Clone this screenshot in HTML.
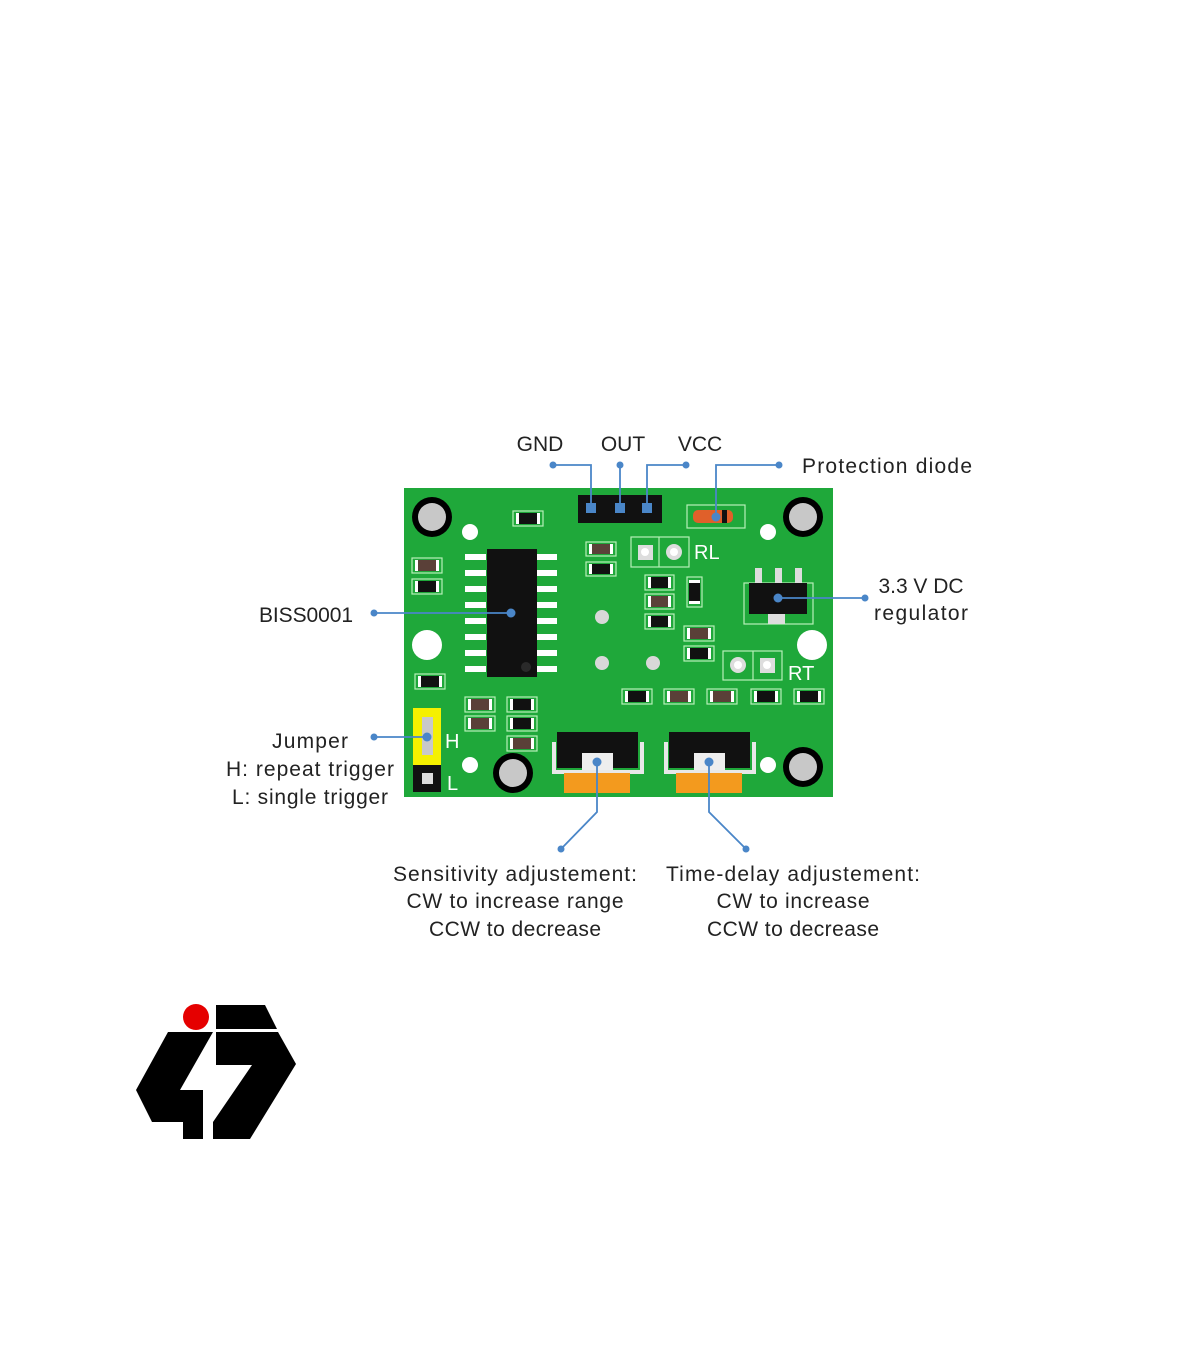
<!DOCTYPE html>
<html><head><meta charset="utf-8"><style>
html,body{margin:0;padding:0;background:#fff}
svg{display:block}
text{font-family:"Liberation Sans","DejaVu Sans",sans-serif;fill:#222;font-size:21px}
</style></head><body>
<svg width="1200" height="1372" viewBox="0 0 1200 1372" xmlns="http://www.w3.org/2000/svg">
<rect x="404" y="488" width="429" height="309" fill="#1fa83a"/>
<g fill="#000"><circle cx="432" cy="517" r="20"/><circle cx="803" cy="517" r="20"/><circle cx="513" cy="773" r="20"/><circle cx="803" cy="767" r="20"/></g>
<g fill="#c8c8c8"><circle cx="432" cy="517" r="14"/><circle cx="803" cy="517" r="14"/><circle cx="513" cy="773" r="14"/><circle cx="803" cy="767" r="14"/></g>
<g fill="#fff"><circle cx="470" cy="532" r="8"/><circle cx="768" cy="532" r="8"/><circle cx="470" cy="765" r="8"/><circle cx="768" cy="765" r="8"/><circle cx="427" cy="645" r="15"/><circle cx="812" cy="645" r="15"/></g>
<g fill="#d8d8d8"><circle cx="602" cy="617" r="7"/><circle cx="602" cy="663" r="7"/><circle cx="653" cy="663" r="7"/></g>
<rect x="578" y="495" width="84" height="28" fill="#111"/>
<g fill="#fff">
<rect x="465" y="554" width="21" height="6"/><rect x="465" y="570" width="21" height="6"/><rect x="465" y="586" width="21" height="6"/><rect x="465" y="602" width="21" height="6"/><rect x="465" y="618" width="21" height="6"/><rect x="465" y="634" width="21" height="6"/><rect x="465" y="650" width="21" height="6"/><rect x="465" y="666" width="21" height="6"/>
<rect x="537" y="554" width="20" height="6"/><rect x="537" y="570" width="20" height="6"/><rect x="537" y="586" width="20" height="6"/><rect x="537" y="602" width="20" height="6"/><rect x="537" y="618" width="20" height="6"/><rect x="537" y="634" width="20" height="6"/><rect x="537" y="650" width="20" height="6"/><rect x="537" y="666" width="20" height="6"/>
</g>
<rect x="487" y="549" width="50" height="128" fill="#111"/>
<circle cx="526" cy="667" r="5" fill="#2a2a2a"/>
<g stroke="#b8f0b8" stroke-width="1.2" fill="none">
<rect x="513" y="511" width="30" height="15"/>
<rect x="412" y="558" width="30" height="15"/><rect x="412" y="579" width="30" height="15"/>
<rect x="586" y="542" width="30" height="14"/><rect x="586" y="562" width="30" height="14"/>
<rect x="645" y="575" width="29" height="15"/><rect x="645" y="594" width="29" height="15"/><rect x="645" y="614" width="29" height="15"/>
<rect x="684" y="626" width="30" height="15"/><rect x="684" y="646" width="30" height="15"/>
<rect x="415" y="674" width="30" height="15"/>
<rect x="465" y="697" width="30" height="15"/><rect x="465" y="716" width="30" height="15"/>
<rect x="507" y="697" width="30" height="15"/><rect x="507" y="716" width="30" height="15"/><rect x="507" y="736" width="30" height="15"/>
<rect x="622" y="689" width="30" height="15"/><rect x="664" y="689" width="30" height="15"/><rect x="707" y="689" width="30" height="15"/><rect x="751" y="689" width="30" height="15"/><rect x="794" y="689" width="30" height="15"/>
<rect x="687" y="577" width="15" height="30"/>
<rect x="687" y="505" width="58" height="23"/>
<rect x="631" y="537" width="58" height="30"/><line x1="659" y1="537" x2="659" y2="567"/>
<rect x="723" y="651" width="59" height="29"/><line x1="753" y1="651" x2="753" y2="680"/>
<rect x="744" y="583" width="69" height="41"/>
</g>
<g fill="#fff">
<rect x="516" y="513" width="24" height="11"/>
<rect x="415" y="560" width="24" height="11"/><rect x="415" y="581" width="24" height="11"/>
<rect x="589" y="544" width="24" height="10"/><rect x="589" y="564" width="24" height="10"/>
<rect x="648" y="577" width="23" height="11"/><rect x="648" y="596" width="23" height="11"/><rect x="648" y="616" width="23" height="11"/>
<rect x="687" y="628" width="24" height="11"/><rect x="687" y="648" width="24" height="11"/>
<rect x="418" y="676" width="24" height="11"/>
<rect x="468" y="699" width="24" height="11"/><rect x="468" y="718" width="24" height="11"/>
<rect x="510" y="699" width="24" height="11"/><rect x="510" y="718" width="24" height="11"/><rect x="510" y="738" width="24" height="11"/>
<rect x="625" y="691" width="24" height="11"/><rect x="667" y="691" width="24" height="11"/><rect x="710" y="691" width="24" height="11"/><rect x="754" y="691" width="24" height="11"/><rect x="797" y="691" width="24" height="11"/>
<rect x="689" y="580" width="11" height="24"/>
</g>
<g fill="#111">
<rect x="519" y="513" width="18" height="11"/>
<rect x="418" y="581" width="18" height="11"/>
<rect x="592" y="564" width="18" height="10"/>
<rect x="651" y="577" width="17" height="11"/><rect x="651" y="616" width="17" height="11"/>
<rect x="690" y="648" width="18" height="11"/>
<rect x="421" y="676" width="18" height="11"/>
<rect x="513" y="699" width="18" height="11"/><rect x="513" y="718" width="18" height="11"/>
<rect x="628" y="691" width="18" height="11"/><rect x="757" y="691" width="18" height="11"/><rect x="800" y="691" width="18" height="11"/>
<rect x="689" y="583" width="11" height="18"/>
</g>
<g fill="#5a4038">
<rect x="418" y="560" width="18" height="11"/>
<rect x="592" y="544" width="18" height="10"/>
<rect x="651" y="596" width="17" height="11"/>
<rect x="690" y="628" width="18" height="11"/>
<rect x="471" y="699" width="18" height="11"/><rect x="471" y="718" width="18" height="11"/>
<rect x="513" y="738" width="18" height="11"/>
<rect x="670" y="691" width="18" height="11"/><rect x="713" y="691" width="18" height="11"/>
</g>
<rect x="693" y="510" width="40" height="13" rx="5" fill="#e0602a"/>
<rect x="722" y="510" width="5" height="13" fill="#111"/>
<rect x="638" y="545" width="15" height="15" fill="#ddd"/><circle cx="645" cy="552" r="4" fill="#fff"/>
<circle cx="674" cy="552" r="8" fill="#ddd"/><circle cx="674" cy="552" r="4" fill="#fff"/>
<circle cx="738" cy="665" r="8" fill="#ddd"/><circle cx="738" cy="665" r="4" fill="#fff"/>
<rect x="760" y="658" width="15" height="15" fill="#ddd"/><circle cx="767" cy="665" r="4" fill="#fff"/>
<text x="694" y="559" style="fill:#fff;font-size:20px">RL</text>
<text x="788" y="680" style="fill:#fff;font-size:20px">RT</text>
<g fill="#ddd"><rect x="755" y="568" width="7" height="15"/><rect x="775" y="568" width="7" height="15"/><rect x="795" y="568" width="7" height="15"/><rect x="768" y="614" width="17" height="10"/></g>
<rect x="749" y="583" width="58" height="31" fill="#111"/>
<rect x="413" y="708" width="28" height="57" fill="#f5f000"/>
<rect x="422" y="717" width="11" height="38" fill="#c8c8c8"/>
<rect x="413" y="765" width="28" height="27" fill="#111"/>
<rect x="422" y="773" width="11" height="11" fill="#ddd"/>
<text x="445" y="748" style="fill:#fff;font-size:20px">H</text>
<text x="447" y="790" style="fill:#fff;font-size:20px">L</text>
<path d="M554 742V772H642V742" fill="none" stroke="#e8e8e8" stroke-width="4"/>
<rect x="557" y="732" width="81" height="36" fill="#111"/>
<rect x="582" y="753" width="31" height="17" fill="#eee"/>
<rect x="564" y="773" width="66" height="20" fill="#f39a1e"/>
<path d="M666 742V772H754V742" fill="none" stroke="#e8e8e8" stroke-width="4"/>
<rect x="669" y="732" width="81" height="36" fill="#111"/>
<rect x="694" y="753" width="31" height="17" fill="#eee"/>
<rect x="676" y="773" width="66" height="20" fill="#f39a1e"/>
<g stroke="#4a86c8" stroke-width="1.8" fill="none">
<path d="M553 465H591V508"/><path d="M620 465V508"/><path d="M686 465H647V508"/><path d="M779 465H716V517"/>
<path d="M374 613H511"/><path d="M778 598H865"/><path d="M374 737H427"/>
<path d="M597 762V812L561 849"/><path d="M709 762V812L746 849"/>
</g>
<g fill="#4a86c8">
<circle cx="553" cy="465" r="3.5"/><circle cx="620" cy="465" r="3.5"/><circle cx="686" cy="465" r="3.5"/><circle cx="779" cy="465" r="3.5"/>
<rect x="586" y="503" width="10" height="10"/><rect x="615" y="503" width="10" height="10"/><rect x="642" y="503" width="10" height="10"/><circle cx="716" cy="517" r="4.5"/>
<circle cx="374" cy="613" r="3.5"/><circle cx="511" cy="613" r="4.5"/><circle cx="865" cy="598" r="3.5"/><circle cx="778" cy="598" r="4.5"/>
<circle cx="374" cy="737" r="3.5"/><circle cx="427" cy="737" r="4.5"/>
<circle cx="597" cy="762" r="4.5"/><circle cx="709" cy="762" r="4.5"/><circle cx="561" cy="849" r="3.5"/><circle cx="746" cy="849" r="3.5"/>
</g>
<text x="540" y="451" text-anchor="middle">GND</text>
<text x="623" y="451" text-anchor="middle">OUT</text>
<text x="700" y="451" text-anchor="middle">VCC</text>
<text x="802" y="473" textLength="170">Protection diode</text>
<text x="353" y="622" text-anchor="end" textLength="94">BISS0001</text>
<text x="921" y="593" text-anchor="middle" textLength="85">3.3 V DC</text>
<text x="921" y="620" text-anchor="middle" textLength="94">regulator</text>
<text x="310" y="748" text-anchor="middle" textLength="76">Jumper</text>
<text x="310" y="776" text-anchor="middle" textLength="168">H: repeat trigger</text>
<text x="310" y="804" text-anchor="middle" textLength="156">L: single trigger</text>
<text x="515" y="881" text-anchor="middle" textLength="244">Sensitivity adjustement:</text>
<text x="515" y="908" text-anchor="middle" textLength="217">CW to increase range</text>
<text x="515" y="936" text-anchor="middle" textLength="172">CCW to decrease</text>
<text x="793" y="881" text-anchor="middle" textLength="254">Time-delay adjustement:</text>
<text x="793" y="908" text-anchor="middle" textLength="153">CW to increase</text>
<text x="793" y="936" text-anchor="middle" textLength="172">CCW to decrease</text>
<circle cx="196" cy="1017" r="13" fill="#e50000"/>
<polygon points="216,1005 265,1005 277,1029 216,1029" fill="#000"/>
<polygon points="168,1032 213,1032 180,1090 203,1090 203,1139 183,1139 183,1122 152,1122 136,1090" fill="#000"/>
<polygon points="216,1032 278,1032 296,1064 250,1139 213,1139 213,1122 252,1065 216,1065" fill="#000"/>
</svg>
</body></html>
